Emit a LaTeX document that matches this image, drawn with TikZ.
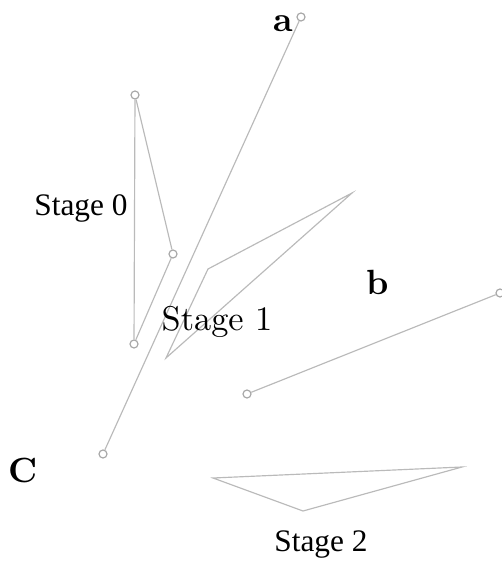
\documentclass[tikz,border=0pt]{standalone}
\usepackage{fontspec}
\newfontfamily\timesfont{Liberation Serif}
\begin{document}
\begin{tikzpicture}[x=0.3pt,y=-0.3pt,
  edge/.style={draw=black!27, line width=0.35pt},
  pin/.style={circle, draw=black!35, line width=0.35pt, fill=white, inner sep=0pt, minimum size=2.4pt},
  tlabel/.style={font=\timesfont\fontsize{9.4}{11}\selectfont, inner sep=0pt},
  mlabel/.style={font=\fontsize{10.3}{12}\selectfont, inner sep=0pt},
  blabel/.style={font=\fontsize{10.5}{12}\selectfont\bfseries, inner sep=0pt}]
\useasboundingbox (0,0) rectangle (501,562);

% long stroke from a to C
\node[pin] (a) at (301,17) {};
\node[pin] (c) at (103,454) {};
\draw[edge] (a) -- (c);

% stage 0 triangle
\node[pin] (s0t) at (135,95) {};
\node[pin] (s0r) at (173,254) {};
\node[pin] (s0b) at (134,344) {};
\draw[edge] (s0t) -- (s0b);
\draw[edge] (s0t) -- (s0r);
\draw[edge] (s0r) -- (s0b);

% stage 1 triangle
\coordinate (s1a) at (166,358);
\coordinate (s1b) at (208,269);
\coordinate (s1c) at (352,193);
\draw[edge] (s1a) -- (s1b) -- (s1c) -- cycle;

% stroke b
\node[pin] (b1) at (500,293) {};
\node[pin] (b2) at (247,394) {};
\draw[edge] (b1) -- (b2);

% stage 2 triangle
\coordinate (s2a) at (213,478);
\coordinate (s2b) at (462,467);
\coordinate (s2c) at (303,511);
\draw[edge] (s2a) -- (s2b) -- (s2c) -- cycle;

% labels
\node[blabel] (la) at (283,24) {a};
\node[blabel] (lb) at (378,282) {b};
\node[blabel] (lc) at (23,470) {C};
\node[tlabel] (l0) at (81,208) {Stage 0};
\node[mlabel] (l1) at (217,322) {Stage 1};
\node[tlabel] (l2) at (321,545) {Stage 2};
\end{tikzpicture}
\end{document}
